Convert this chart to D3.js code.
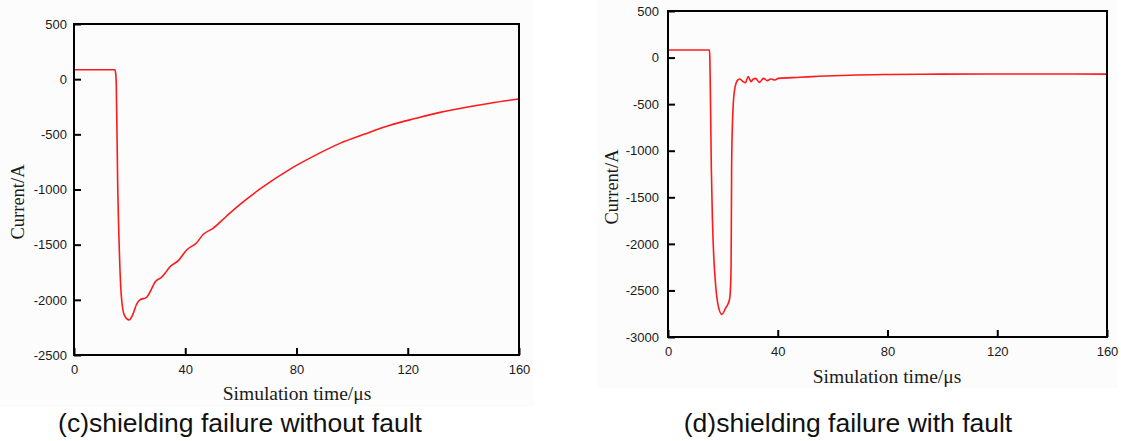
<!DOCTYPE html>
<html>
<head>
<meta charset="utf-8">
<script src="https://cdn.jsdelivr.net/npm/d3@7"></script>
<style>
  html, body { margin: 0; padding: 0; background: #ffffff; }
  svg { display: block; }
</style>
</head>
<body>
<svg id="chart" width="1121" height="441"></svg>
<script>
// ---- data ----
const xTicks = [0, 40, 80, 120, 160];
const yTicksC = [500, 0, -500, -1000, -1500, -2000, -2500];
const yTicksD = [500, 0, -500, -1000, -1500, -2000, -2500, -3000];

const timeC = [0, 14.7, 15.0, 15.2, 15.7, 16.3, 16.8, 17.3, 18.3, 19.8, 21.2, 22.5, 23.7, 26.1, 27.5, 29.1, 31.5, 33.0, 34.5, 37.5, 40.5, 44.1, 46.5, 50.0, 54.9, 59.7, 66.9, 77.7, 86.0, 95.6, 104.6, 113.6, 122.6, 131.6, 140.6, 149.6, 160];
const currentC = [85, 85, 50, -50, -940, -1550, -1880, -2040, -2150, -2183, -2130, -2040, -2001, -1977, -1920, -1840, -1795, -1750, -1700, -1645, -1548, -1482, -1406, -1352, -1240, -1135, -995, -815, -700, -582, -497, -418, -357, -301, -257, -218, -180];

const timeD = [0, 15.1, 15.25, 15.5, 15.8, 16.2, 16.7, 17.3, 18.2, 19.6, 21.0, 22.4, 22.7, 23.0, 23.2, 23.5, 23.8, 24.3, 24.8, 25.5, 26.2, 27.2, 28.2, 29.2, 30.3, 31.1, 31.9, 33.3, 34.8, 36.2, 37.4, 39.0, 40.2, 48.1, 55.0, 66.3, 80, 100, 130, 160];
const currentD = [82, 82, 0, -500, -1200, -1750, -2150, -2420, -2650, -2757, -2690, -2600, -2520, -2209, -1135, -700, -491, -340, -276, -240, -230, -255, -270, -205, -258, -230, -223, -266, -223, -248, -230, -241, -223, -212, -201, -189, -182, -178, -176, -178];

const panels = [
  { time: timeC, current: currentC, yTicks: yTicksC, yDomain: [-2500, 500],
    x0: 74, x1: 519, y0: 24, y1: 355, pad: 7,
    bg: [0, 0, 533, 407],
    yTitle: [18, 202], xTitle: [297, 400],
    caption: "(c)shielding failure without fault", capPos: [240, 432] },
  { time: timeD, current: currentD, yTicks: yTicksD, yDomain: [-3000, 500],
    x0: 668, x1: 1107, y0: 11, y1: 337, pad: 9,
    bg: [598, 0, 520, 388],
    yTitle: [612, 187], xTitle: [887, 383],
    caption: "(d)shielding failure with fault", capPos: [848, 432] }
];

const svg = d3.select("#chart");
const fmt = d => String(d);

panels.forEach(p => {
  svg.append("rect")
    .attr("x", p.bg[0]).attr("y", p.bg[1])
    .attr("width", p.bg[2]).attr("height", p.bg[3])
    .attr("fill", "#fcfcfc");

  const x = d3.scaleLinear().domain([0, 160]).range([p.x0, p.x1]);
  const y = d3.scaleLinear().domain(p.yDomain).range([p.y1, p.y0]);

  // line
  const pts = p.time.map((t, i) => [t, p.current[i]]);
  const line = d3.line().x(d => x(d[0])).y(d => y(d[1])).curve(d3.curveMonotoneX);
  svg.append("path").datum(pts)
    .attr("d", line)
    .attr("fill", "none")
    .attr("stroke", "#ff1a1a")
    .attr("stroke-width", 1.6);

  // axes
  const yAxis = d3.axisLeft(y).tickValues(p.yTicks).tickFormat(fmt).tickSizeInner(-7).tickSizeOuter(0).tickPadding(p.pad);
  const gy = svg.append("g").attr("transform", `translate(${p.x0},0)`).call(yAxis);
  const xAxis = d3.axisBottom(x).tickValues(xTicks).tickFormat(fmt).tickSizeInner(-7).tickSizeOuter(0).tickPadding(10);
  const gx = svg.append("g").attr("transform", `translate(0,${p.y1})`).call(xAxis);
  [gx, gy].forEach(g => {
    g.select(".domain").remove();
    g.selectAll(".tick line").attr("stroke", "#000").attr("stroke-width", 2);
    g.selectAll(".tick text")
      .attr("font-family", "'Liberation Sans', Arial, sans-serif")
      .attr("font-size", 13)
      .attr("fill", "#1a1a1a");
  });

  // frame
  svg.append("rect")
    .attr("x", p.x0).attr("y", p.y0)
    .attr("width", p.x1 - p.x0).attr("height", p.y1 - p.y0)
    .attr("fill", "none").attr("stroke", "#000").attr("stroke-width", 2);

  // titles
  svg.append("text")
    .attr("transform", `translate(${p.yTitle[0]},${p.yTitle[1]}) rotate(-90)`)
    .attr("text-anchor", "middle").attr("dominant-baseline", "central")
    .attr("font-family", "'Liberation Serif', 'Times New Roman', serif")
    .attr("font-size", 18.5).attr("fill", "#1a1a1a")
    .text("Current/A");
  svg.append("text")
    .attr("x", p.xTitle[0]).attr("y", p.xTitle[1])
    .attr("text-anchor", "middle")
    .attr("font-family", "'Liberation Serif', 'Times New Roman', serif")
    .attr("font-size", 19.5).attr("fill", "#1a1a1a")
    .text("Simulation time/\u03bcs");
  svg.append("text")
    .attr("x", p.capPos[0]).attr("y", p.capPos[1])
    .attr("text-anchor", "middle")
    .attr("font-family", "'Liberation Sans', Arial, sans-serif")
    .attr("font-size", 26.5).attr("fill", "#111")
    .text(p.caption);
});
</script>
</body>
</html>
